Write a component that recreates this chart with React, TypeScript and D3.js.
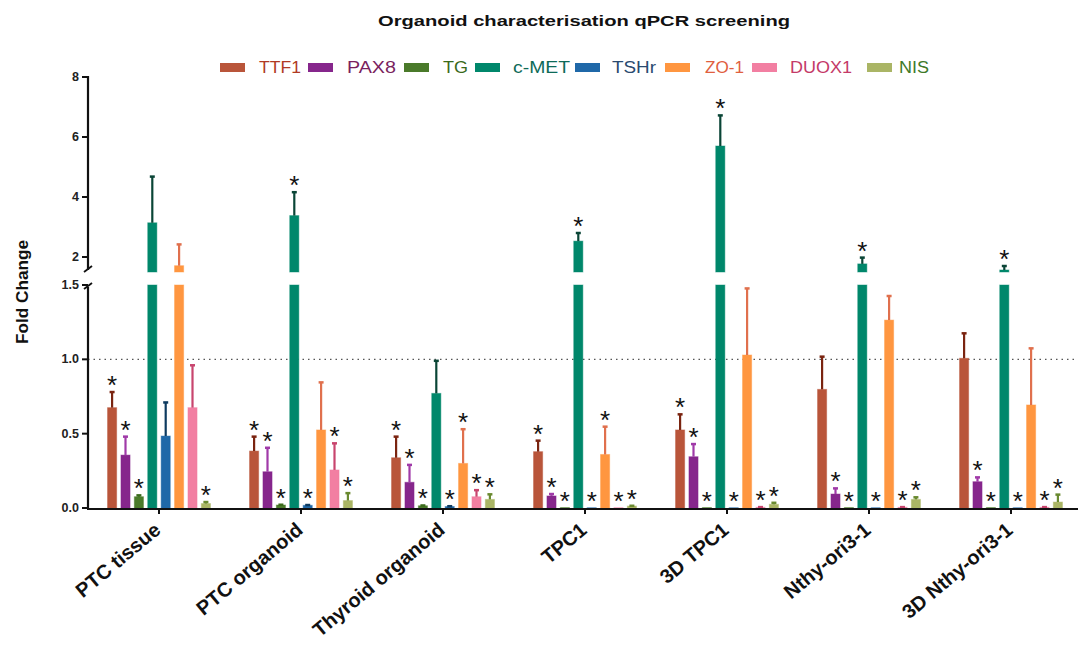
import React from "react";
import * as d3 from "d3";

const groups = ["PTC tissue", "PTC organoid", "Thyroid organoid", "TPC1", "3D TPC1", "Nthy-ori3-1", "3D Nthy-ori3-1"];
const seriesNames = ["TTF1", "PAX8", "TG", "c-MET", "TSHr", "ZO-1", "DUOX1", "NIS"];
const barColors = ["#b9553a", "#86268c", "#4a7a2a", "#00876b", "#1f68a8", "#ff9640", "#f27fa2", "#aab565"];
const errColors = ["#7a2410", "#a03aa8", "#3a6a1a", "#0a4536", "#0d3a60", "#e0704d", "#c8456e", "#6a8a30"];
const textColors = ["#b03a24", "#7a1f5e", "#3a6a1a", "#0d6a58", "#2a4a70", "#e0603f", "#c43a68", "#3f7a2a"];

const ttf1 = [0.675, 0.383, 0.338, 0.379, 0.525, 0.798, 1.007];
const ttf1Err = [0.78, 0.48, 0.48, 0.453, 0.63, 1.018, 1.175];
const ttf1Star = [1, 1, 1, 1, 1, 0, 0];
const pax8 = [0.356, 0.244, 0.173, 0.081, 0.345, 0.094, 0.177];
const pax8Err = [0.48, 0.405, 0.29, 0.094, 0.43, 0.132, 0.206];
const pax8Star = [1, 1, 1, 1, 1, 1, 1];
const tg = [0.076, 0.02, 0.015, 0.003, 0.003, 0.003, 0.003];
const tgErr = [0.085, 0.022, 0.017, 0.003, 0.003, 0.003, 0.003];
const tgStar = [1, 1, 1, 1, 1, 1, 1];
const cmet = [3.14, 3.38, 0.771, 2.53, 5.7, 1.77, 1.567];
const cmetErr = [4.68, 4.16, 0.99, 2.8, 6.72, 1.98, 1.7];
const cmetStar = [0, 1, 0, 1, 1, 1, 1];
const tshr = [0.484, 0.018, 0.01, 0.002, 0.002, 0.002, 0.002];
const tshrErr = [0.71, 0.02, 0.012, 0.002, 0.002, 0.002, 0.002];
const tshrStar = [0, 1, 1, 1, 1, 1, 1];
const zo1 = [1.71, 0.525, 0.3, 0.36, 1.029, 1.264, 0.693];
const zo1Err = [2.42, 0.845, 0.53, 0.547, 1.477, 1.426, 1.074];
const zo1Star = [0, 0, 1, 1, 0, 0, 0];
const duox1 = [0.675, 0.256, 0.076, 0.002, 0.005, 0.005, 0.005];
const duox1Err = [0.96, 0.435, 0.12, 0.002, 0.006, 0.006, 0.006];
const duox1Star = [0, 1, 1, 1, 1, 1, 1];
const nis = [0.03, 0.05, 0.058, 0.013, 0.025, 0.058, 0.04];
const nisErr = [0.04, 0.1, 0.092, 0.015, 0.035, 0.072, 0.09];
const nisStar = [1, 1, 1, 1, 1, 1, 1];

const lowTicks = [0, 0.5, 1.0, 1.5];
const highTicks = [2, 4, 6, 8];

const allValues = [ttf1, pax8, tg, cmet, tshr, zo1, duox1, nis];
const allErrs = [ttf1Err, pax8Err, tgErr, cmetErr, tshrErr, zo1Err, duox1Err, nisErr];
const allStars = [ttf1Star, pax8Star, tgStar, cmetStar, tshrStar, zo1Star, duox1Star, nisStar];

const legendSwatchX = [220, 308, 404, 475, 575, 665, 752, 867];
const legendTextX = [259, 347, 443, 513, 612, 705, 790, 899];
const legendTextW = [42, 49, 25, 57, 44, 39, 62, 30];

export default function App() {
  const axisX = 88;
  const yLow = d3.scaleLinear().domain([0, 1.5]).range([508, 285]);
  const yHigh = d3.scaleLinear().domain([1.5, 8]).range([272, 77]);
  const y = (v: number) => (v <= 1.5 ? yLow(v) : yHigh(v));
  const x0 = d3.scaleBand<string>().domain(groups).range([axisX, axisX + 7 * 142]).paddingInner(0).paddingOuter(0);
  const x1 = d3.scaleBand<string>().domain(seriesNames).range([-53.6, 53.6]).paddingInner(0.32).paddingOuter(0.16);
  const bw = x1.bandwidth();
  const font = "Liberation Sans, Arial, sans-serif";

  const marks: React.ReactNode[] = [];
  groups.forEach((g, gi) => {
    const cx = (x0(g) as number) + x0.bandwidth() / 2;
    seriesNames.forEach((s, si) => {
      const v = allValues[si][gi];
      const e = allErrs[si][gi];
      const bx = cx + (x1(s) as number);
      const mid = bx + bw / 2;
      const col = barColors[si];
      const key = `${gi}-${si}`;
      if (v <= 1.5) {
        marks.push(
          <rect key={key + "r"} x={bx} y={yLow(v)} width={bw} height={yLow(0) - yLow(v)} fill={col} stroke={col} strokeOpacity={0.45} strokeWidth={1} />
        );
      } else {
        marks.push(
          <rect key={key + "r1"} x={bx} y={yLow(1.5)} width={bw} height={yLow(0) - yLow(1.5)} fill={col} stroke={col} strokeOpacity={0.45} strokeWidth={1} />,
          <rect key={key + "r2"} x={bx} y={yHigh(v)} width={bw} height={yHigh(1.5) - yHigh(v)} fill={col} stroke={col} strokeOpacity={0.45} strokeWidth={1} />
        );
      }
      if (e > v + 0.0005) {
        const ec = errColors[si];
        marks.push(
          <line key={key + "e"} x1={mid} x2={mid} y1={y(v)} y2={y(e)} stroke={ec} strokeWidth={2.2} />,
          <line key={key + "c"} x1={mid - 2.5} x2={mid + 2.5} y1={y(e)} y2={y(e)} stroke={ec} strokeWidth={2.5} />
        );
      }
      if (allStars[si][gi]) {
        const top = Math.min(y(e), y(v));
        marks.push(
          <text key={key + "s"} x={mid} y={top + 2} textAnchor="middle" fontFamily={font} fontSize={26} fill="#111">
            *
          </text>
        );
      }
    });
  });

  return (
    <svg width={1078} height={648} style={{ position: "absolute", left: 0, top: 0, background: "#fff" }}>
      <text x={378} y={26} textLength={412} lengthAdjust="spacingAndGlyphs" fontFamily={font} fontWeight="bold" fontSize={15} fill="#111">
        Organoid characterisation qPCR screening
      </text>
      {seriesNames.map((s, i) => (
        <g key={s}>
          <rect x={legendSwatchX[i]} y={63} width={25} height={9} fill={barColors[i]} />
          <text x={legendTextX[i]} y={73} textLength={legendTextW[i]} lengthAdjust="spacingAndGlyphs" fontFamily={font} fontSize={16} fill={textColors[i]}>
            {s}
          </text>
        </g>
      ))}
      {/* reference line */}
      <line x1={axisX} x2={1078} y1={yLow(1)} y2={yLow(1)} stroke="#555" strokeWidth={1.3} strokeDasharray="1.5,4" />
      {marks}
      {/* y axis */}
      <line x1={axisX} x2={axisX} y1={yHigh(8) - 1} y2={yHigh(1.5) - 2} stroke="#111" strokeWidth={2.2} />
      <line x1={axisX} x2={axisX} y1={yLow(1.5) + 2} y2={yLow(0) + 1} stroke="#111" strokeWidth={2.2} />
      <line x1={axisX - 4} x2={axisX + 4} y1={yHigh(1.5)} y2={yHigh(1.5) - 6} stroke="#111" strokeWidth={1.8} />
      <line x1={axisX - 4} x2={axisX + 4} y1={yLow(1.5) + 4} y2={yLow(1.5) - 2} stroke="#111" strokeWidth={1.8} />
      {highTicks.map((t) => (
        <g key={"h" + t}>
          <line x1={axisX - 6} x2={axisX} y1={yHigh(t)} y2={yHigh(t)} stroke="#111" strokeWidth={2} />
          <text x={axisX - 9} y={yHigh(t) + 4} textAnchor="end" fontFamily={font} fontWeight="bold" fontSize={12.5} fill="#222">
            {t}
          </text>
        </g>
      ))}
      {lowTicks.map((t) => (
        <g key={"l" + t}>
          <line x1={axisX - 6} x2={axisX} y1={yLow(t)} y2={yLow(t)} stroke="#111" strokeWidth={2} />
          <text x={axisX - 9} y={yLow(t) + 4} textAnchor="end" fontFamily={font} fontWeight="bold" fontSize={12.5} fill="#222">
            {t.toFixed(1)}
          </text>
        </g>
      ))}
      <text transform={`translate(28,292) rotate(-90)`} textAnchor="middle" textLength={104} lengthAdjust="spacingAndGlyphs" fontFamily={font} fontWeight="bold" fontSize={16.5} fill="#111">
        Fold Change
      </text>
      {/* x axis */}
      <line x1={axisX - 1} x2={1078} y1={yLow(0) + 1} y2={yLow(0) + 1} stroke="#111" strokeWidth={2.2} />
      {groups.map((g) => {
        const cx = (x0(g) as number) + x0.bandwidth() / 2;
        return (
          <g key={g}>
            <line x1={cx} x2={cx} y1={yLow(0)} y2={yLow(0) + 6} stroke="#111" strokeWidth={2} />
            <text transform={`translate(${cx + 3},${yLow(0) + 24}) rotate(-40)`} textAnchor="end" fontFamily={font} fontWeight="bold" fontSize={20} fill="#111">
              {g}
            </text>
          </g>
        );
      })}
    </svg>
  );
}
